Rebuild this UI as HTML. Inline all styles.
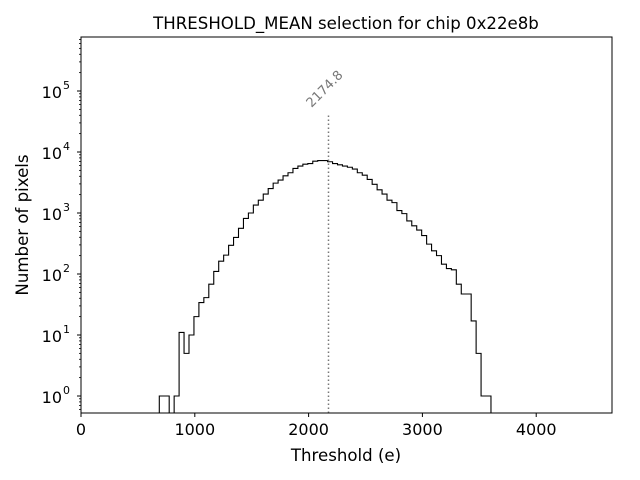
<!DOCTYPE html>
<html><head><meta charset="utf-8"><style>
body{margin:0;background:#fff}
svg{display:block;font-family:"DejaVu Sans","Liberation Sans",sans-serif}
</style></head><body>
<svg id="chart" width="640" height="480" viewBox="0 0 640 480">
<rect width="640" height="480" fill="#fff"/>
<g id="plot"></g>
<text x="346" y="29" text-anchor="middle" font-size="16.6" fill="#000">THRESHOLD_MEAN selection for chip 0x22e8b</text>
<text x="346" y="461" text-anchor="middle" font-size="16.6" fill="#000">Threshold (e)</text>
<text transform="translate(28,225) rotate(-90)" text-anchor="middle" font-size="16.6" fill="#000">Number of pixels</text>
</svg>
<script>
const binStart = 688;
const binWidth = 43.5;
const counts = [1,1,0,1,11,5,10,20,34,41,68,110,162,204,295,398,562,813,1000,1349,1622,2042,2512,3090,3467,4074,4571,5370,5888,6310,6457,7079,7244,7244,
6918,6457,6166,5888,5623,5248,4571,4169,3548,2951,2399,2042,1622,1479,1096,977,741,617,525,427,309,240,200,145,123,117,68,47,47,17,5,1,1];
const xTicks = [0,1000,2000,3000,4000];
const yDecades = [0,1,2,3,4,5];
const thresholdValue = 2174.8;
const thresholdTop = 42000;

const L=81,R=612,T=37,B=413;
const xMin=0,xMax=4666;
const y0px=396,dec=61;
const sx=v=>L+(v-xMin)/(xMax-xMin)*(R-L);
const sy=v=>v<=0?B:Math.min(B,y0px-Math.log10(v)*dec);
const NS="http://www.w3.org/2000/svg";
const g=document.getElementById('plot');
function mk(t,a){const e=document.createElementNS(NS,t);for(const k in a)e.setAttribute(k,a[k]);g.appendChild(e);return e;}

let d=`M${sx(binStart)},${B}`;
counts.forEach((c,i)=>{const x0=sx(binStart+i*binWidth),x1=sx(binStart+(i+1)*binWidth);d+=` L${x0},${sy(c)} L${x1},${sy(c)}`;});
d+=` L${sx(binStart+counts.length*binWidth)},${B}`;
const hist=mk('path',{d:d,fill:'none',stroke:'#000','stroke-width':1.1});



const tl=mk('line',{x1:sx(thresholdValue),x2:sx(thresholdValue),y1:B,y2:sy(thresholdTop),stroke:'#777','stroke-width':1.5,'stroke-dasharray':'1.5,2.5'});


const tt=mk('text',{transform:`translate(${sx(thresholdValue)-17},${sy(thresholdTop)-6}) rotate(-45)`,'font-size':13,fill:'#777'});
tt.textContent=thresholdValue.toFixed(1);



const fr=mk('rect',{x:L,y:T,width:R-L,height:B-T,fill:'none',stroke:'#000','stroke-width':1});



xTicks.forEach(v=>{
  const tk=mk('line',{x1:sx(v),x2:sx(v),y1:B,y2:B+4,stroke:'#000'});
  
  
  const lb=mk('text',{x:sx(v),y:B+22,'text-anchor':'middle','font-size':16,fill:'#000'});
  lb.textContent=v;
  
  
});

yDecades.forEach(p=>{
  const y=y0px-p*dec;
  const tk=mk('line',{x1:L-4,x2:L,y1:y,y2:y,stroke:'#000'});
  
  
  const lb=mk('text',{x:L-19,y:y+7,'text-anchor':'end','font-size':16,fill:'#000'});
  lb.textContent='10';
  
  
  const sp=mk('text',{x:L-18,y:y-2,'font-size':11,fill:'#000'});
  sp.textContent=String(p);
  
  
});
for(let p=-1;p<=5;p++){for(let m=2;m<=9;m++){const y=y0px-(p+Math.log10(m))*dec;if(y<T||y>B)continue;
  const mt=mk('line',{x1:L-2,x2:L,y1:y,y2:y,stroke:'#000','stroke-width':0.8});
  
  
}}
</script>
</body></html>
